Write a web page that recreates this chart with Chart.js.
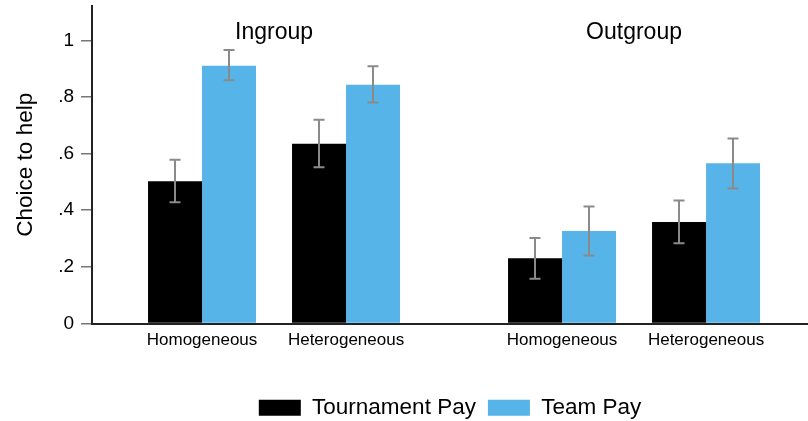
<!DOCTYPE html>
<html>
<head>
<meta charset="utf-8">
<script src="https://cdn.jsdelivr.net/npm/chart.js@4.4.1/dist/chart.umd.min.js"></script>
<style>
  html, body { margin: 0; padding: 0; background: #fff; }
  #wrap { width: 808px; height: 421px; position: relative; }
</style>
</head>
<body>
<div id="wrap"><canvas id="chart"></canvas></div>
<script>
// categories under each bar pair, and the panel titles above them
var categories = ['Homogeneous', 'Heterogeneous', 'Homogeneous', 'Heterogeneous'];
var groups = ['Ingroup', 'Outgroup'];
// where each pair sits on the x scale (gap between the two panels)
var slots = [0, 1, 2.5, 3.5];

// share choosing to help, with 95% CI ends
var tournamentPay = [0.502, 0.635, 0.230, 0.358];
var tournamentLo  = [0.428, 0.552, 0.158, 0.283];
var tournamentHi  = [0.578, 0.719, 0.302, 0.434];
var teamPay = [0.910, 0.843, 0.327, 0.566];
var teamLo  = [0.859, 0.780, 0.240, 0.477];
var teamHi  = [0.966, 0.908, 0.413, 0.653];

var yTicks = [0, 0.2, 0.4, 0.6, 0.8, 1];

var FONT = "Arial, 'Liberation Sans', sans-serif";

function toPoints(vals){
    return vals.map(function(v, i){ return {x: slots[i], y: v}; });
}

// gray capped whiskers plus the panel titles
var extras = {
    id: 'extras',
    afterLayout: function(chart){
        // centre the legend under the plot area rather than the canvas
        var shift = (chart.chartArea.left + chart.chartArea.right) / 2 - chart.width / 2;
        chart.legend.left += shift;
        chart.legend.right += shift;
    },
    afterDatasetsDraw: function(chart){
        var ctx = chart.ctx;
        var ys = chart.scales.y;
        var xs = chart.scales.x;
        var ci = [[tournamentLo, tournamentHi], [teamLo, teamHi]];
        ctx.save();
        ctx.strokeStyle = '#8a8a8a';
        ctx.lineWidth = 2;
        chart.data.datasets.forEach(function(ds, d){
            var meta = chart.getDatasetMeta(d);
            meta.data.forEach(function(bar, i){
                var x = Math.round(bar.x);
                var y1 = ys.getPixelForValue(ci[d][0][i]);
                var y2 = ys.getPixelForValue(ci[d][1][i]);
                ctx.beginPath();
                ctx.moveTo(x, y1); ctx.lineTo(x, y2);
                ctx.moveTo(x - 5.5, y1); ctx.lineTo(x + 5.5, y1);
                ctx.moveTo(x - 5.5, y2); ctx.lineTo(x + 5.5, y2);
                ctx.stroke();
            });
        });
        ctx.fillStyle = '#000';
        ctx.font = '23px ' + FONT;
        ctx.textAlign = 'center';
        ctx.textBaseline = 'middle';
        ctx.fillText(groups[0], xs.getPixelForValue((slots[0] + slots[1]) / 2), 33);
        ctx.fillText(groups[1], xs.getPixelForValue((slots[2] + slots[3]) / 2), 33);
        ctx.restore();
    }
};

var ctx = document.getElementById('chart').getContext('2d');
var myChart = new Chart(ctx, {
    type: 'bar',
    data: {
        datasets: [{
            label: 'Tournament Pay',
            data: toPoints(tournamentPay),
            backgroundColor: '#000000'
        }, {
            label: 'Team Pay',
            data: toPoints(teamPay),
            backgroundColor: '#56b4e9'
        }]
    },
    options: {
        responsive: true,
        maintainAspectRatio: false,
        animation: false,
        categoryPercentage: 0.75,
        barPercentage: 1.0,
        layout: { padding: { top: 6, left: 0, right: 0, bottom: -8 } },
        plugins: {
            tooltip: { enabled: false },
            legend: {
                display: true,
                position: 'bottom',
                labels: {
                    boxWidth: 42,
                    boxHeight: 16,
                    padding: 12,
                    color: '#000',
                    font: { family: FONT, size: 22.5 }
                }
            }
        },
        scales: {
            x: {
                type: 'linear',
                min: -0.764,
                max: 4.208,
                offset: false,
                afterBuildTicks: function(scale){
                    scale.ticks = slots.map(function(v){ return {value: v}; });
                },
                afterFit: function(scale){
                    scale.height = 61;
                    scale.paddingLeft = 0;
                    scale.paddingRight = 0;
                },
                grid: { display: false, drawTicks: false },
                border: { display: true, color: '#222', width: 2 },
                ticks: {
                    padding: 7,
                    color: '#000',
                    font: { family: FONT, size: 17 },
                    callback: function(value){
                        return categories[slots.indexOf(value)];
                    }
                }
            },
            y: {
                min: 0,
                max: 1.121,
                afterBuildTicks: function(scale){
                    scale.ticks = yTicks.map(function(v){ return {value: v}; });
                },
                afterFit: function(scale){
                    scale.width = 92;
                    scale.paddingTop = 0;
                    scale.paddingBottom = 0;
                },
                grid: { drawOnChartArea: false, drawTicks: true, tickLength: 11, color: '#777', lineWidth: 1.5 },
                border: { display: true, color: '#222', width: 2 },
                title: {
                    display: true,
                    text: 'Choice to help',
                    color: '#000',
                    font: { family: FONT, size: 22.5 },
                    padding: { top: 12, bottom: 0 }
                },
                ticks: {
                    padding: 7,
                    color: '#000',
                    font: { family: FONT, size: 19 },
                    callback: function(value){
                        return String(value).replace(/^0\./, '.');
                    }
                }
            }
        }
    },
    plugins: [extras]
});
</script>
</body>
</html>
